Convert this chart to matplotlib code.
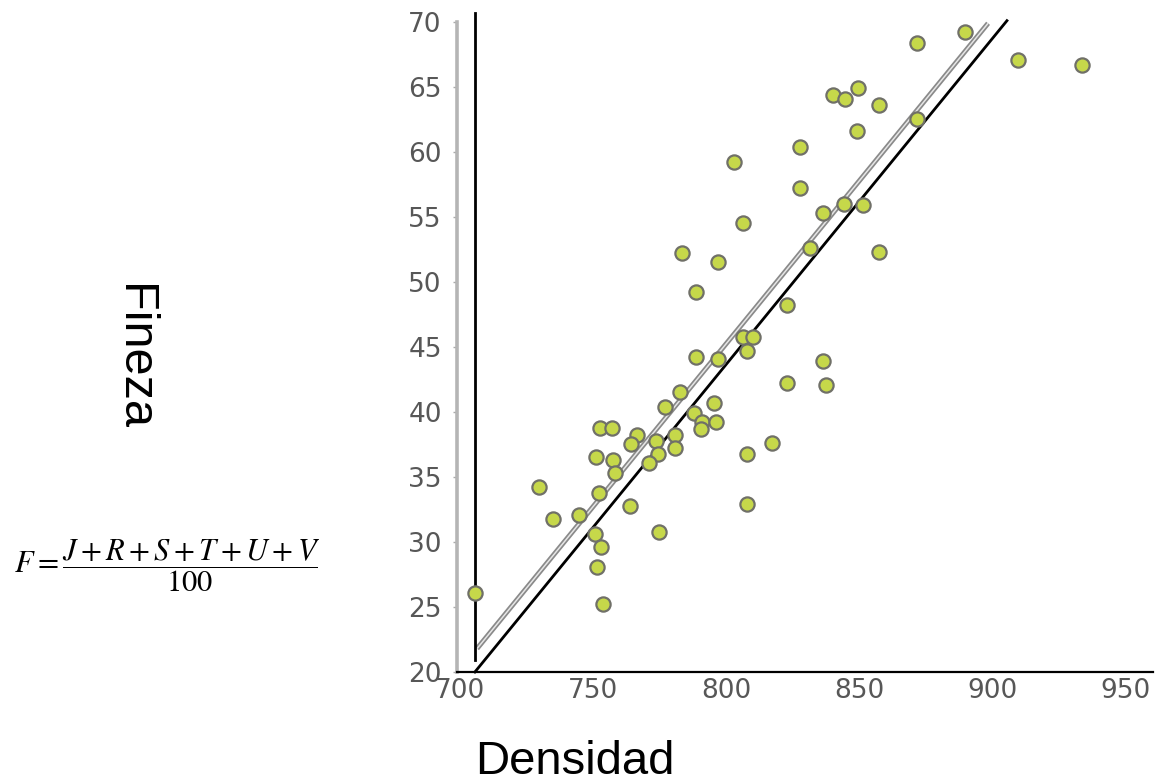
import matplotlib
matplotlib.use("Agg")
import matplotlib.pyplot as plt

# Densidad (x) vs Fineza (y)
densidad = [803.0, 806.4, 783.5, 797.0, 788.7, 889.8, 871.8, 909.8, 933.8, 840.2,
            844.7, 849.6, 857.5, 849.2, 871.8, 827.8, 827.8, 844.4, 851.5, 836.5,
            857.5, 831.6, 823.0, 806.4, 810.2, 807.9, 788.7, 797.0, 782.7, 777.0,
            795.5, 788.0, 791.0, 796.2, 790.6, 752.6, 757.1, 766.5, 764.3, 773.7,
            780.8, 780.8, 774.4, 771.0, 751.1, 757.5, 758.3, 817.3, 807.9, 729.7,
            752.3, 744.7, 735.0, 763.9, 807.9, 750.8, 774.8, 753.0, 751.5, 753.8,
            705.6, 836.5, 823.0, 837.6]
fineza = [59.2, 54.5, 52.2, 51.5, 49.2, 69.2, 68.4, 67.1, 66.7, 64.4,
          64.1, 64.9, 63.6, 61.6, 62.5, 60.4, 57.2, 56.0, 55.9, 55.3,
          52.3, 52.6, 48.2, 45.8, 45.8, 44.7, 44.2, 44.1, 41.5, 40.4,
          40.7, 39.9, 39.2, 39.2, 38.7, 38.8, 38.8, 38.2, 37.5, 37.8,
          38.2, 37.2, 36.8, 36.1, 36.5, 36.3, 35.3, 37.6, 36.8, 34.2,
          33.8, 32.1, 31.8, 32.8, 32.9, 30.6, 30.8, 29.6, 28.1, 25.2,
          26.1, 43.9, 42.2, 42.1]

# hand-drawn guide lines
vert_x, vert_y = [705.6, 705.6], [20.9, 70.7]
diag_x, diag_y = [705.6, 905.6], [20.0, 70.1]
trend_x, trend_y = [706.4, 898.5], [21.8, 69.9]

x_ticks = [700, 750, 800, 850, 900, 950]
y_ticks = [20, 25, 30, 35, 40, 45, 50, 55, 60, 65, 70]

fig = plt.figure(figsize=(11.55, 7.83), dpi=100)
fig.patch.set_facecolor("white")
ax = fig.add_axes([457 / 1155, 111 / 783, 696 / 1155, 669 / 783])

ax.set_xlim(698.87, 960.5)
ax.set_ylim(20, 71.46)

# trend line: gray band with lighter core
ax.plot(trend_x, trend_y, color="#8a8a8a", lw=3.6, solid_capstyle="butt", zorder=2)
ax.plot(trend_x, trend_y, color="#e6e6e6", lw=1.1, solid_capstyle="butt", zorder=2)
ax.plot(diag_x, diag_y, color="black", lw=2, clip_on=False, zorder=3)
ax.plot(vert_x, vert_y, color="black", lw=2, clip_on=False, zorder=3)

ax.scatter(densidad, fineza, s=105, facecolor="#c6d84a", edgecolor="#707068",
           linewidth=1.6, zorder=4)

for side in ["top", "right"]:
    ax.spines[side].set_visible(False)
ax.spines["left"].set_color("#b5b5b5")
ax.spines["left"].set_linewidth(2.6)
ax.spines["left"].set_bounds(20, 70)
ax.spines["bottom"].set_color("black")
ax.spines["bottom"].set_linewidth(1.6)

ax.set_xticks(x_ticks)
ax.set_yticks(y_ticks)
ax.tick_params(axis="y", length=3, width=1, color="#aaaaaa", pad=8,
               labelsize=19, labelcolor="#575757")
ax.tick_params(axis="x", length=0, pad=4, labelsize=19, labelcolor="#575757")

fig.text(575 / 1155, 1 - 774 / 783, "Densidad", fontsize=34,
         family="Liberation Sans", ha="center", va="baseline")
fig.text(133 / 1155, 1 - 357 / 783, "Fineza", fontsize=35, rotation=270,
         family="Liberation Sans", ha="center", va="center")

plt.rcParams["mathtext.fontset"] = "stix"
fig.text(167 / 1155, 1 - 566 / 783, r"$F=\dfrac{J+R+S+T+U+V}{100}$",
         fontsize=22, ha="center", va="center")

fig.savefig("out.png", dpi=100, facecolor="white")
